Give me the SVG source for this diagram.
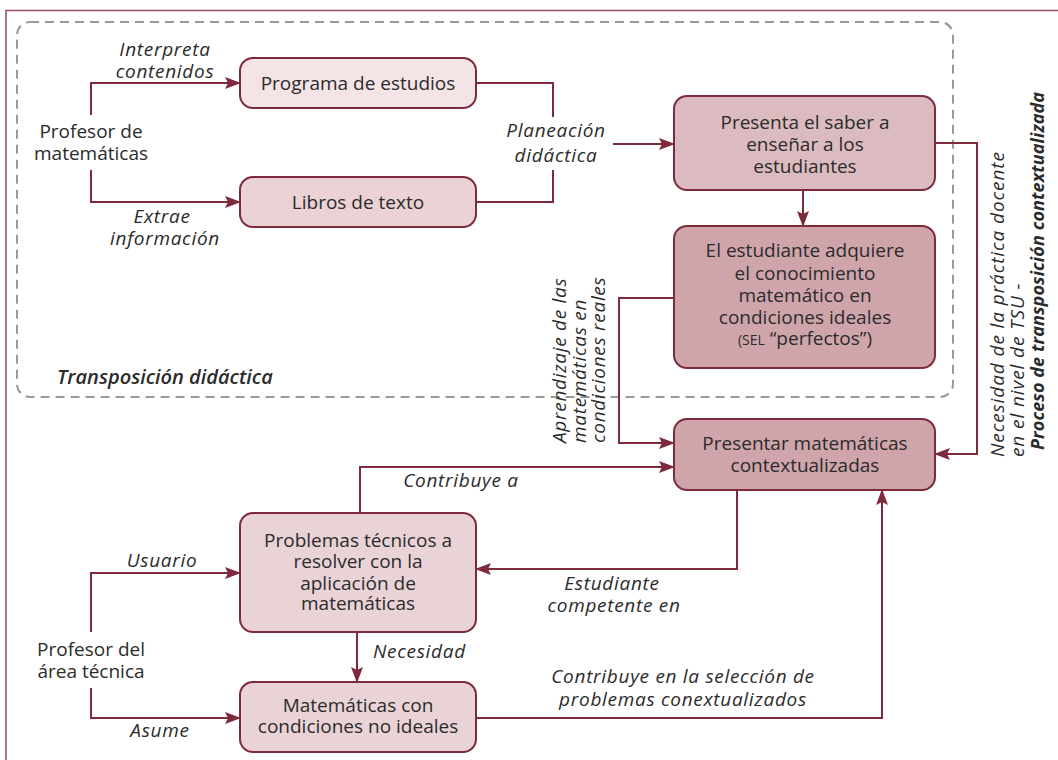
<svg xmlns="http://www.w3.org/2000/svg" width="1058" height="760" viewBox="0 0 1058 760">
<defs>
<marker id="ah" markerUnits="userSpaceOnUse" markerWidth="16" markerHeight="12" refX="15" refY="6" orient="auto">
<path d="M0,0 L16,6 L0,12 L3,6 Z" fill="#7d2b3c"/>
</marker>
</defs>
<style>
.t{font-family:"Open Sans","Noto Sans","Liberation Sans",sans-serif;font-size:19px;fill:#2b2b2b;text-anchor:middle}
.i{font-family:"Open Sans","Noto Sans","Liberation Sans",sans-serif;font-size:19px;letter-spacing:0.7px;fill:#2b2b2b;font-style:italic;text-anchor:middle}
.r{font-family:"Open Sans","Noto Sans","Liberation Sans",sans-serif;font-size:19px;letter-spacing:0.9px;fill:#2b2b2b;font-style:italic;text-anchor:start}
.box{stroke:#7d2b3c;stroke-width:2}
.c{fill:none;stroke:#7d2b3c;stroke-width:2}
.a{marker-end:url(#ah)}
</style>
<rect width="1058" height="760" fill="#ffffff"/>
<path d="M6,760 V10.5 H1058" fill="none" stroke="#98505f" stroke-width="1.5"/>
<rect x="17" y="22" width="936" height="375" rx="13" fill="none" stroke="#999" stroke-width="2" stroke-dasharray="9,6"/>
<text x="57" y="384" style="font-family:'Open Sans','Noto Sans',sans-serif;font-size:20px;font-style:italic;font-weight:600;fill:#2b2b2b">Transposición didáctica</text>

<g id="connectors">
<path class="c a" d="M91,115 V83 H240"/>
<path class="c a" d="M91,170 V202 H240"/>
<path class="c" d="M476,83 H553 V117"/>
<path class="c" d="M476,202 H553 V170"/>
<path class="c a" d="M613,144 H674"/>
<path class="c a" d="M803,190 V226"/>
<path class="c a" d="M935,143 H977 V454 H935"/>
<path class="c a" d="M674,298 H619 V443 H674"/>
<path class="c a" d="M91,632 V573 H240"/>
<path class="c a" d="M91,688 V718 H240"/>
<path class="c a" d="M357,632 V682"/>
<path class="c a" d="M360,513 V467 H674"/>
<path class="c a" d="M737,490 V569 H476"/>
<path class="c a" d="M476,718 H882 V490"/>
</g>

<g id="labels">
<text class="i" x="165" y="56">Interpreta</text>
<text class="i" x="165" y="78">contenidos</text>
<text class="i" x="162" y="223">Extrae</text>
<text class="i" x="165" y="245">información</text>
<text class="i" x="556" y="137">Planeación</text>
<text class="i" x="556" y="162">didáctica</text>
<text class="i" x="162" y="567">Usuario</text>
<text class="i" x="160" y="737">Asume</text>
<text class="i" x="373" y="658" style="text-anchor:start">Necesidad</text>
<text class="i" x="461" y="487">Contribuye a</text>
<text class="i" x="612" y="590">Estudiante</text>
<text class="i" x="614" y="612">competente en</text>
<text class="i" x="683" y="683">Contribuye en la selección de</text>
<text class="i" x="683" y="706">problemas conextualizados</text>
<g transform="translate(0,443) rotate(-90)">
<text class="i" x="0" y="566" style="text-anchor:start">Aprendizaje de las</text>
<text class="i" x="0" y="586" style="text-anchor:start">matemáticas en</text>
<text class="i" x="0" y="605" style="text-anchor:start">condiciones reales</text>
</g>
<g transform="translate(0,457) rotate(-90)">
<text class="r" x="0" y="1004">Necesidad de la práctica docente</text>
<text class="r" x="0" y="1024">en el nivel de TSU -</text>
<text class="r" x="7" y="1044" style="font-weight:bold;font-size:18px;letter-spacing:0.1px">Proceso de transposición contextualizada</text>
</g>
</g>

<g id="profesor-mat">
<text class="t" x="91" y="138">Profesor de</text>
<text class="t" x="91" y="160">matemáticas</text>
</g>
<g id="programa">
<rect class="box" x="240" y="58" width="236" height="50" rx="13" fill="#f4e4e6"/>
<text class="t" x="358" y="90">Programa de estudios</text>
</g>
<g id="libros">
<rect class="box" x="240" y="177" width="236" height="50" rx="13" fill="#ead2d5"/>
<text class="t" x="358" y="209">Libros de texto</text>
</g>
<g id="presenta">
<rect class="box" x="674" y="96" width="261" height="94" rx="13" fill="#dcbbc0"/>
<text class="t" x="805" y="129">Presenta el saber a</text>
<text class="t" x="805" y="151">enseñar a los</text>
<text class="t" x="805" y="173">estudiantes</text>
</g>
<g id="estudiante">
<rect class="box" x="674" y="226" width="261" height="142" rx="13" fill="#cfa5ab"/>
<text class="t" x="805" y="257">El estudiante adquiere</text>
<text class="t" x="805" y="280">el conocimiento</text>
<text class="t" x="805" y="302">matemático en</text>
<text class="t" x="805" y="324">condiciones ideales</text>
<text class="t" x="805" y="345"><tspan style="font-size:14px">(SEL</tspan> “perfectos”)</text>
</g>
<g id="presentar">
<rect class="box" x="674" y="419" width="261" height="71" rx="13" fill="#cfa5ab"/>
<text class="t" x="805" y="450">Presentar matemáticas</text>
<text class="t" x="805" y="472">contextualizadas</text>
</g>
<g id="problemas">
<rect class="box" x="240" y="513" width="236" height="119" rx="13" fill="#e9d3d6"/>
<text class="t" x="358" y="547">Problemas técnicos a</text>
<text class="t" x="358" y="568">resolver con la</text>
<text class="t" x="358" y="590">aplicación de</text>
<text class="t" x="358" y="610">matemáticas</text>
</g>
<g id="profesor-tec">
<text class="t" x="91" y="656">Profesor del</text>
<text class="t" x="91" y="678">área técnica</text>
</g>
<g id="matematicas">
<rect class="box" x="240" y="682" width="236" height="70" rx="13" fill="#e9d3d6"/>
<text class="t" x="358" y="712">Matemáticas con</text>
<text class="t" x="358" y="733">condiciones no ideales</text>
</g>
</svg>
